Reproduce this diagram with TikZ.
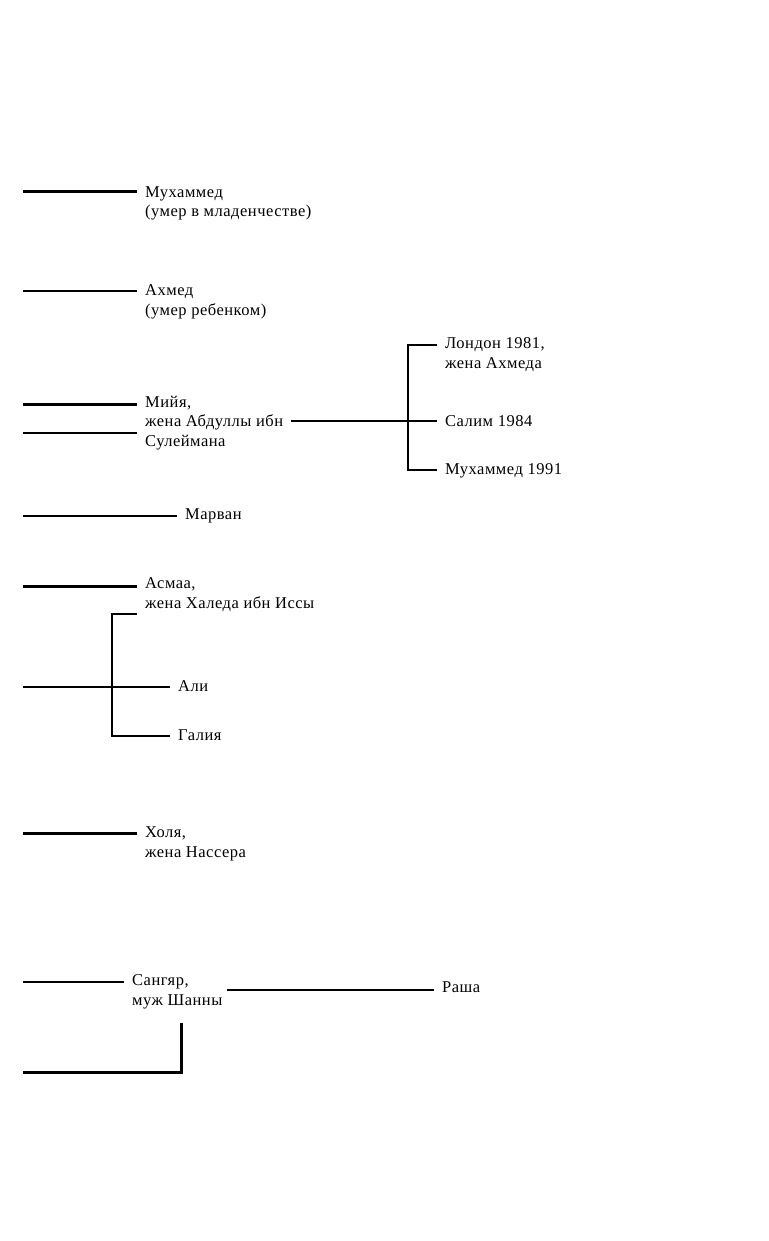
\documentclass[tikz,border=0pt]{standalone}
\usepackage{fontspec}
\setmainfont[LetterSpace=3]{Liberation Serif}
\begin{document}
\begin{tikzpicture}[
    x=1pt, y=-1pt,
    every node/.style={font=\fontsize{16.5}{19.5}\selectfont},
    person/.style={anchor=base west, align=left, inner xsep=8pt, inner ysep=0pt},
    heavy/.style={line width=3pt},
    medium/.style={line width=2.2pt},
    light/.style={line width=1.5pt}
]
\useasboundingbox (0,0) rectangle (768,1241);
% Names (anchored at the baseline of the last line)
\node[person] (muh) at (137, 217) {Мухаммед\\(умер в младенчестве)};
\node[person] (ahmed) at (137, 315) {Ахмед\\(умер ребенком)};
\node[person] (miya) at (137, 446) {Мийя,\\жена Абдуллы ибн\\Сулеймана};
\node[person] (london) at (437, 368) {Лондон 1981,\\жена Ахмеда};
\node[person] (salim) at (437, 426) {Салим 1984};
\node[person] (muhb) at (437, 474) {Мухаммед 1991};
\node[person] (marvan) at (177, 519) {Марван};
\node[person] (asmaa) at (137, 608) {Асмаа,\\жена Халеда ибн Иссы};
\node[person] (ali) at (170, 691) {Али};
\node[person] (galiya) at (170, 740) {Галия};
\node[person] (holya) at (137, 857) {Холя,\\жена Нассера};
\node[person] (sangyar) at (124, 1005) {Сангяр,\\муж Шанны};
\node[person] (rasha) at (434, 992) {Раша};

% Left ends
\coordinate (l1) at (23, 192);
\coordinate (l2) at (23, 291);
\coordinate (l3) at (23, 404);
\coordinate (l4) at (23, 433);
\coordinate (l5) at (23, 516);
\coordinate (l6) at (23, 586);
\coordinate (l7) at (23, 687);
\coordinate (l8) at (23, 833);
\coordinate (l9) at (23, 982);
\coordinate (l10) at (23, 1072);

\draw[heavy] (l1) -- (muh.west |- l1);
\draw[light] (l2) -- (ahmed.west |- l2);
\draw[heavy] (l3) -- (miya.west |- l3);
\draw[medium] (l4) -- (miya.west |- l4);
\draw[light] (l5) -- (marvan.west |- l5);
\draw[heavy] (l6) -- (asmaa.west |- l6);
\draw[light] (l7) -- (ali.west |- l7);
\draw[heavy] (l8) -- (holya.west |- l8);
\draw[light] (l9) -- (sangyar.west |- l9);

% Children of Mijja
\coordinate (mt) at (408, 345);
\coordinate (mm) at (408, 421);
\coordinate (mb) at (408, 470);
\draw[light] (miya.east |- mm) -- (salim.west |- mm);
\draw[light] (london.west |- mt) -- (mt) -- (mb) -- (muhb.west |- mb);

% Children of Asmaa
\coordinate (at) at (112, 614);
\coordinate (ab) at (112, 736);
\draw[light] (asmaa.west |- at) -- (at) -- (ab) -- (galiya.west |- ab);

% Sangyar
\coordinate (r0) at (227, 990);
\coordinate (sv) at (181, 1023);
\draw[medium] (r0) -- (rasha.west |- r0);
\draw[heavy] (l10) -| (sv);
\end{tikzpicture}
\end{document}
